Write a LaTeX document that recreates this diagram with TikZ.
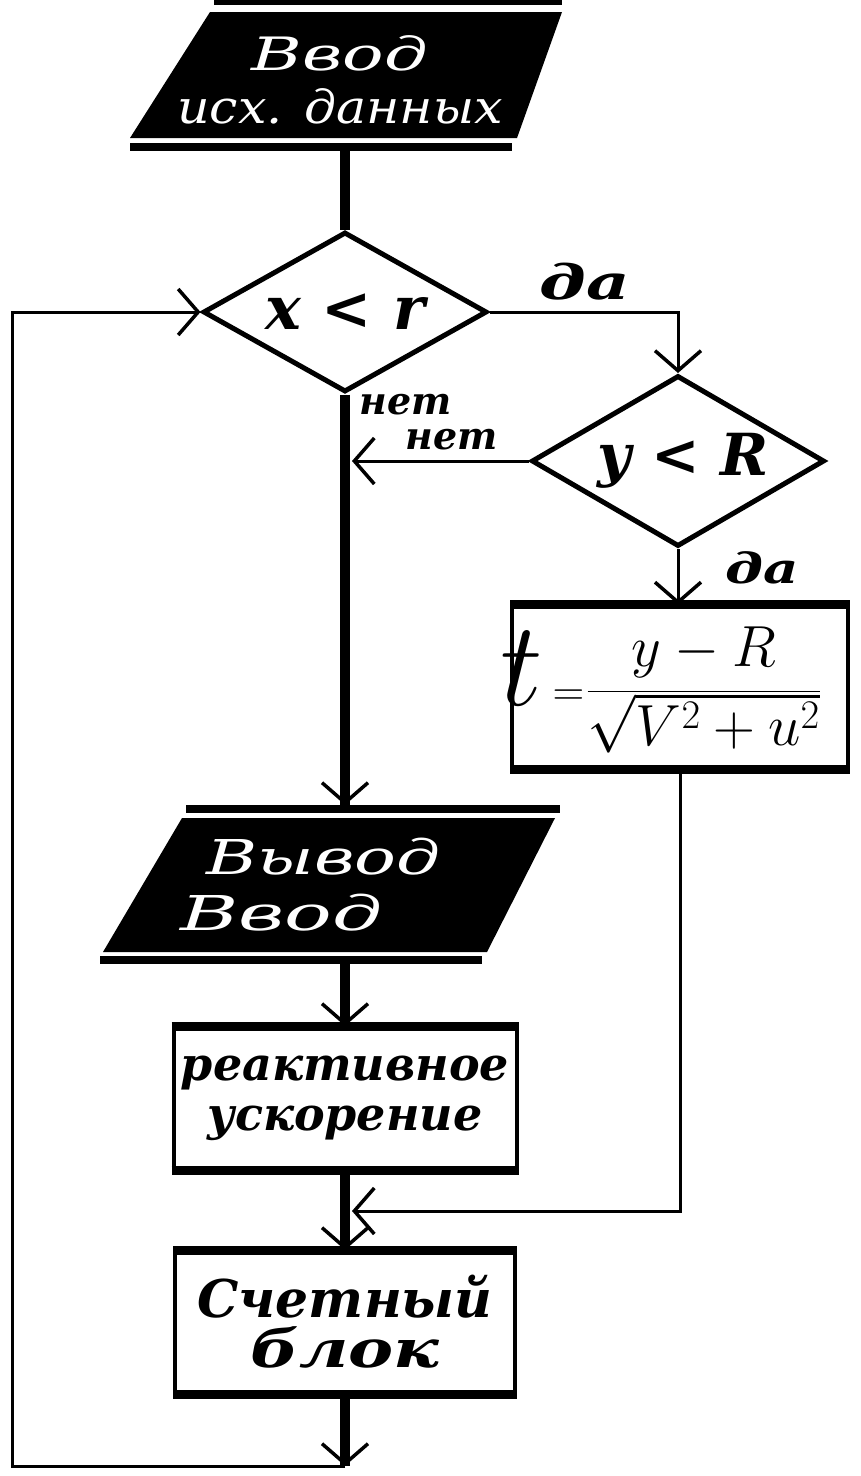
\RequirePackage{fix-cm}
\documentclass[tikz,border=0pt]{standalone}
\usepackage{fontspec}
\setmainfont{DejaVu Serif}
\usetikzlibrary{shapes.geometric,arrows.meta}
\newcommand{\hwf}[2]{\fontsize{#1}{#2}\selectfont\itshape}
\newcommand{\hwb}[2]{\fontsize{#1}{#2}\selectfont\bfseries\itshape}
\newcommand{\xsc}[2]{\scalebox{#1}[1]{#2}}
\begin{document}
\begin{tikzpicture}[x=1pt,y=-1pt,
  thk/.style={line width=10pt},
  thn/.style={line width=3pt},
  arw/.style={-{Straight Barb[length=20pt 0,width=46pt 0,line width=3.5pt 0]}},
  thkarw/.style={thk, postaction={draw,line width=3pt,arw}},
  dec/.style={diamond,draw,line width=5pt,inner sep=0pt},
  proc/.style={rectangle,draw,line width=4pt,inner sep=0pt,align=center},
  bar/.style={line width=8pt},
  wtext/.style={text=white,inner sep=0pt},
  btext/.style={text=black,align=center,inner sep=0pt}]

\fill[white] (0,0) rectangle (861,1476);
\useasboundingbox (0,0) rectangle (861,1476);

% ---- input parallelogram
\fill (130,138) -- (210,12) -- (562,12) -- (517,138) -- cycle;
\draw[bar] (214,1) -- (562,1);
\draw[bar] (130,147) -- (512,147);
\node[wtext,align=center,font=\hwf{46}{53}] (inp) at (340,80) {\xsc{1.5}{Ввод}\\\xsc{1.1}{исх. данных}};
\coordinate (inpout) at (345,151);

% ---- decision 1
\node[dec,aspect=1.78,minimum width=284pt,minimum height=160pt,font=\hwb{60}{60}] (d1) at (345,312) {x < r\hspace{12pt}};

% ---- decision 2
\node[dec,aspect=1.71,minimum width=293pt,minimum height=171pt,font=\hwb{58}{58}] (d2) at (678,461) {\hspace{10pt}y < R};

% ---- formula box
\node[proc,minimum width=336pt,minimum height=161pt] (bt) at (680,687) {};
\draw[line width=9pt] (bt.north west) -- (bt.north east);
\draw[line width=9pt] (bt.south west) -- (bt.south east);
\node[inner sep=0pt,anchor=west] (fm) at (500,690) {\fontsize{120}{120}\selectfont$t$\hspace{10pt}\fontsize{44}{44}\selectfont$=$\hspace{2pt}\fontsize{58}{58}\selectfont$\displaystyle\frac{y-R}{\sqrt{V^2+u^2}}$};

% ---- output parallelogram
\fill (103,952) -- (182,818) -- (555,818) -- (487,952) -- cycle;
\draw[bar] (186,809) -- (560,809);
\draw[bar] (100,960) -- (482,960);
\coordinate (p2in) at (345,805);
\coordinate (p2out) at (345,964);
\node[wtext,align=left,font=\hwf{48}{56},anchor=west] (outp) at (180,885) {\hspace*{26pt}\xsc{1.45}{Вывод}\\\xsc{1.65}{Ввод}};

% ---- box 3
\node[proc,minimum width=343pt,minimum height=140pt,font=\hwb{46}{50}] (b3) at (345,1098) {реактивное\\ускорение};
\draw[line width=9pt] (b3.north west) -- (b3.north east);
\draw[line width=9pt] (b3.south west) -- (b3.south east);

% ---- box 4
\node[proc,minimum width=340pt,minimum height=140pt,font=\hwb{52}{50}] (b4) at (345,1322) {Счетный\\\xsc{1.3}{блок}};
\draw[line width=9pt] (b4.north west) -- (b4.north east);
\draw[line width=9pt] (b4.south west) -- (b4.south east);

\coordinate (j) at (352,1211);
\coordinate (jn) at (352,461);
\coordinate (bot) at (345,1466);
\coordinate (lc) at (12,1466);

% ---- connectors
\draw[thk] (inpout) -- (d1.north);
\draw[thkarw] (d1.south) -- (p2in);
\draw[thkarw] (p2out) -- (b3.north);
\draw[thkarw] (b3.south) -- (b4.north);
\draw[thkarw] (b4.south) -- (bot);
\draw[thn,arw] (bot) -- (lc) |- (d1.west);
\draw[thn,arw] (d1.east) -| (d2.north);
\draw[thn,arw] (d2.west) -- (jn);
\draw[thn,arw] (d2.south) -- (d2.south |- bt.north);
\draw[thn,arw] (bt.south) |- (j);

% ---- labels
\node[btext,font=\hwb{48}{48}] (da1) at (585,282) {\xsc{1.4}{да}};
\node[btext,font=\hwb{38}{38}] (net1) at (406,405) {нет};
\node[btext,font=\hwb{38}{38}] (net2) at (452,440) {нет};
\node[btext,font=\hwb{42}{42}] (da2) at (762,568) {\xsc{1.3}{да}};
\end{tikzpicture}
\end{document}
